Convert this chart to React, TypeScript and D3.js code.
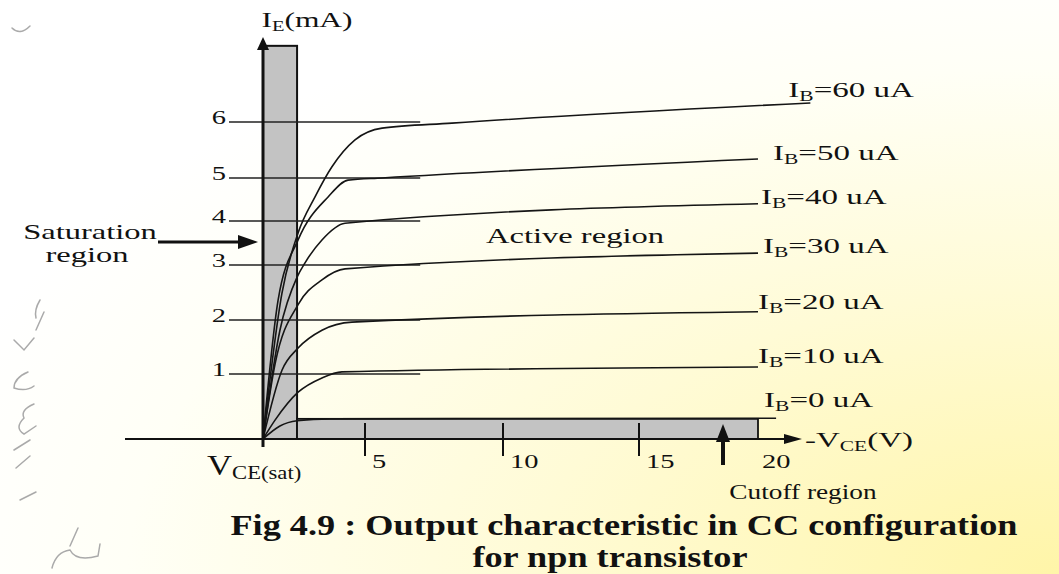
import React from "react";
import * as d3 from "d3";

const WIDTH = 1059;
const HEIGHT = 574;
const SERIF = '"Liberation Serif", "Times New Roman", serif';
const SX = 1.5; // the drawing is stretched horizontally

// axis ticks (volts / milliamps)
const X_TICKS = [5, 10, 15, 20];
const Y_TICKS = [1, 2, 3, 4, 5, 6];

// base currents (uA) and their output curves [VCE (V), IE (mA)]
const BASE_CURRENTS = [0, 10, 20, 30, 40, 50, 60];
const ib0 = [[0, 0], [0.83, 0.2], [1.67, 0.28], [3.28, 0.31], [20.76, 0.32]];
const ib10 = [[0, 0], [0.59, 0.29], [1.72, 0.72], [2.89, 0.94], [3.87, 1.04], [20, 1.13]];
const ib20 = [[0, 0], [0.93, 1.07], [1.72, 1.48], [2.89, 1.81], [4.36, 1.96], [20, 2.15]];
const ib30 = [[0, 0], [0.6, 1.2], [1.72, 2.28], [2.89, 2.73], [4.02, 2.93], [20, 3.27]];
const ib40 = [[0, 0], [0.83, 1.81], [1.67, 2.78], [2.06, 3.05], [2.89, 3.57], [4.02, 3.95], [20, 4.4]];
const ib50 = [[0, 0], [0.74, 2.36], [1.72, 3.57], [3.19, 4.56], [4.17, 4.95], [5.62, 5.0], [20, 5.34]];
const ib60 = [[0, 0], [0.93, 2.49], [1.72, 3.73], [2.55, 4.56], [3.38, 5.2], [4.51, 5.68], [5.62, 5.89], [8.15, 5.98], [22.2, 6.34]];
const CURVES = [ib0, ib10, ib20, ib30, ib40, ib50, ib60];

// regions
const SAT_VCE = 1.67; // saturation region right edge
const SAT_TOP = 7.36;
const CUTOFF_IE = 0.31; // cutoff region top
const CUTOFF_VCE = 20;

// label offsets from the curve ends (px)
const LABEL_DX = [-12, 0, 0, 5, 3, 15, -22];
const LABEL_DY = [-11, -4, -3, 0, 0, 1, -6];

const xScale = d3.scaleLinear().domain([0, 5, 10, 15, 20]).range([263, 365, 503, 639, 758]);
const yScale = d3.scaleLinear().domain([0, 1, 2, 3, 4, 5, 6]).range([439, 374, 320, 265, 221, 178, 122]);

const line = d3
  .line<number[]>()
  .x((d) => xScale(d[0]))
  .y((d) => yScale(d[1]))
  .curve(d3.curveMonotoneX);

const T = ({ x, y, size = 21, anchor = "start", sx = SX, weight = "normal", children }: any) => (
  <text
    transform={`translate(${x},${y}) scale(${sx},1)`}
    fontFamily={SERIF}
    fontSize={size}
    fontWeight={weight}
    textAnchor={anchor}
    fill="#111"
  >
    {children}
  </text>
);

const Sub = ({ children }: any) => (
  <tspan fontSize="0.65em" dy={4}>{children}</tspan>
);

export default function App() {
  const x0 = xScale(0);
  const y0 = yScale(0);
  return (
    <svg
      width={WIDTH}
      height={HEIGHT}
      style={{ position: "absolute", left: 0, top: 0 }}
    >
      <defs>
        <radialGradient id="bg" cx="1" cy="1" r="1.1">
          <stop offset="0" stopColor="#fff5a8" />
          <stop offset="0.45" stopColor="#fffbd6" />
          <stop offset="0.8" stopColor="#fffff6" />
          <stop offset="1" stopColor="#ffffff" />
        </radialGradient>
      </defs>
      <rect width={WIDTH} height={HEIGHT} fill="url(#bg)" />

      {/* template squiggles on the left */}
      <g fill="none" stroke="#aaa" strokeWidth={1.5} strokeLinecap="round">
        <path d="M12,28 Q20,36 30,26" />
        <path d="M40,300 Q34,310 36,318 M44,312 L36,330" />
        <path d="M14,340 L24,350 L34,338" />
        <path d="M28,372 Q14,378 14,388 Q26,392 34,386" />
        <path d="M34,404 Q20,410 24,418 Q14,428 24,434 L36,426" />
        <path d="M14,450 L30,440 M16,468 L30,456" />
        <path d="M20,500 L36,492" />
        <path d="M78,528 L70,546" />
        <path d="M52,568 Q56,552 70,550 Q76,562 98,556 L100,544" />
      </g>

      {/* saturation region */}
      <rect
        x={x0}
        y={yScale(SAT_TOP)}
        width={xScale(SAT_VCE) - x0}
        height={y0 - yScale(SAT_TOP)}
        fill="#c3c3c3"
        stroke="#111"
        strokeWidth={2}
      />
      {/* cutoff region */}
      <rect
        x={xScale(SAT_VCE)}
        y={yScale(CUTOFF_IE)}
        width={xScale(CUTOFF_VCE) - xScale(SAT_VCE)}
        height={y0 - yScale(CUTOFF_IE)}
        fill="#c3c3c3"
        stroke="#111"
        strokeWidth={1.8}
      />

      {/* y tick lines and labels */}
      {Y_TICKS.map((t) => (
        <g key={t}>
          <line x1={229} x2={xScale(7)} y1={yScale(t)} y2={yScale(t)} stroke="#222" strokeWidth={1.6} />
          <T x={226} y={yScale(t) + 2} size={19} anchor="end">{t}</T>
        </g>
      ))}

      {/* curves */}
      {CURVES.map((c, i) => (
        <path key={i} d={line(c) || ""} fill="none" stroke="#151515" strokeWidth={1.6} />
      ))}
      {CURVES.map((c, i) => {
        const end = c[c.length - 1];
        return (
          <T key={i} x={xScale(end[0]) + LABEL_DX[i]} y={yScale(end[1]) + LABEL_DY[i]} size={22}>
            I<Sub>B</Sub>
            <tspan dy={-4}>={BASE_CURRENTS[i]} uA</tspan>
          </T>
        );
      })}

      {/* x axis */}
      <line x1={125} x2={788} y1={y0} y2={y0} stroke="#111" strokeWidth={2.2} />
      <path d={`M${802},${y0} L${784},${y0 - 5} L${784},${y0 + 5} Z`} fill="#111" />
      {X_TICKS.filter((t) => t < CUTOFF_VCE).map((t) => (
        <line key={t} x1={xScale(t)} x2={xScale(t)} y1={y0 - 16} y2={y0 + 17} stroke="#111" strokeWidth={2} />
      ))}
      {X_TICKS.map((t) => (
        <T key={t} x={xScale(t) + (t === 20 ? 4 : 7)} y={y0 + 29} size={19}>{t}</T>
      ))}

      {/* y axis */}
      <line x1={x0} x2={x0} y1={y0 + 8} y2={48} stroke="#111" strokeWidth={3} />
      <path d={`M${x0},${37} L${x0 - 6},${50} L${x0 + 6},${50} Z`} fill="#111" />

      {/* axis titles */}
      <T x={307} y={27} size={21} anchor="middle">
        I<Sub>E</Sub>
        <tspan dy={-4}>(mA)</tspan>
      </T>
      <T x={805} y={447} size={22}>
        -V<Sub>CE</Sub>
        <tspan dy={-4}>(V)</tspan>
      </T>
      <T x={207} y={475} size={29} sx={1.2}>
        V<Sub>CE(sat)</Sub>
      </T>

      {/* region annotations */}
      <T x={575} y={243} size={21} anchor="middle" sx={1.55}>Active region</T>
      <T x={90} y={239} size={21} anchor="middle" sx={1.55}>Saturation</T>
      <T x={87} y={262} size={21} anchor="middle" sx={1.55}>region</T>
      <line x1={158} x2={242} y1={242} y2={242} stroke="#111" strokeWidth={3} />
      <path d="M258,242 L238,235 L238,249 Z" fill="#111" />

      <T x={803} y={499} size={21} anchor="middle" sx={1.3}>Cutoff region</T>
      <line x1={723} x2={723} y1={465} y2={438} stroke="#111" strokeWidth={4} />
      <path d="M723,424 L716,442 L730,442 Z" fill="#111" />

      {/* caption */}
      <T x={624} y={535} size={29} anchor="middle" sx={1.25} weight="bold">
        Fig 4.9 : Output characteristic in CC configuration
      </T>
      <T x={610} y={567} size={29} anchor="middle" sx={1.25} weight="bold">
        for npn transistor
      </T>
    </svg>
  );
}
